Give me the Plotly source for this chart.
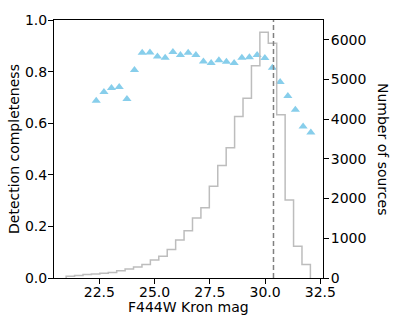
import plotly.graph_objects as go

# completeness points (F444W Kron mag, detection completeness)
mag_pts = [22.36, 22.71, 23.05, 23.40, 23.75, 24.09, 24.44, 24.79, 25.13, 25.48,
           25.83, 26.17, 26.52, 26.87, 27.21, 27.56, 27.91, 28.25, 28.60, 28.95,
           29.29, 29.64, 29.99, 30.33, 30.68, 31.03, 31.37, 31.72, 32.07]
completeness = [0.687, 0.721, 0.736, 0.740, 0.694, 0.806, 0.873, 0.874, 0.859, 0.854,
                0.876, 0.864, 0.873, 0.864, 0.839, 0.833, 0.844, 0.838, 0.833, 0.854,
                0.856, 0.864, 0.853, 0.815, 0.760, 0.705, 0.652, 0.587, 0.564]

# histogram of sources (29 bins)
bin_lo = 21.0
bin_hi = 32.05
counts = [45, 65, 85, 100, 120, 140, 180, 225, 275, 340,
          455, 550, 720, 955, 1190, 1510, 1770, 2310, 2830, 3280,
          4063, 4526, 5346, 6186, 5907, 4111, 1964, 800, 337]

mag_limit = 30.38

nb = len(counts)
w = (bin_hi - bin_lo) / nb
edges = [bin_lo + i * w for i in range(nb + 1)]
step_x = [edges[0]] + edges
step_y = [0] + counts + [0]

FONT = "DejaVu Sans"
L, R, T, B = 54, 74, 12, 46
W, H = 397, 324
pw = W - L - R
ph = H - T - B

fig = go.Figure()

fig.add_trace(go.Scatter(
    x=mag_pts, y=completeness, mode='markers',
    marker=dict(symbol='triangle-up', size=8, color='#87CEEB'),
    yaxis='y', showlegend=False
))

fig.add_trace(go.Scatter(
    x=step_x, y=step_y, mode='lines', line_shape='hv',
    line=dict(color='#bdbdbd', width=1.5),
    yaxis='y2', showlegend=False
))

fig.add_shape(type='line', xref='x', yref='paper', x0=mag_limit, x1=mag_limit,
              y0=0, y1=1, line=dict(color='#808080', width=1.5, dash='5px,3px'))

axis_common = dict(showline=True, linecolor='black', linewidth=1, ticks='outside',
                   ticklen=5, tickwidth=1, tickcolor='black', showgrid=False,
                   zeroline=False, tickfont=dict(family=FONT, size=14, color='black'))

fig.update_layout(
    width=W, height=H,
    margin=dict(l=L, r=R, t=T, b=B),
    paper_bgcolor='white', plot_bgcolor='white',
    font=dict(family=FONT, size=14, color='black'),
    xaxis=dict(range=[20.45, 32.62], tickvals=[22.5, 25.0, 27.5, 30.0, 32.5],
               ticktext=['22.5', '25.0', '27.5', '30.0', '32.5'], mirror=True,
               ticklabelstandoff=-4, **axis_common),
    yaxis=dict(range=[0, 1.0], tickvals=[0, 0.2, 0.4, 0.6, 0.8, 1.0],
               ticktext=['0.0', '0.2', '0.4', '0.6', '0.8', '1.0'],
               ticklabelstandoff=-2, **axis_common),
    yaxis2=dict(range=[0, 6495], overlaying='y', side='right', anchor='x',
                tickvals=[0, 1000, 2000, 3000, 4000, 5000, 6000],
                ticklabelstandoff=-1, **axis_common),
)


def px_note(text, x, y, angle=0):
    # place a label at pixel position (x, y) of the page
    fig.add_annotation(text=text, x=(x - L) / pw, y=(H - B - y) / ph,
                       xref='paper', yref='paper', showarrow=False,
                       textangle=angle, xanchor='center', yanchor='middle',
                       font=dict(family=FONT, size=14, color='black'))


px_note('F444W Kron mag', 188, 308)
px_note('Detection completeness', 14, 145, -90)
px_note('Number of sources', 383, 145, 90)

fig.write_html("out.html", config={'displayModeBar': False},
               post_script="document.body.style.margin='0';document.body.style.overflow='hidden';")
